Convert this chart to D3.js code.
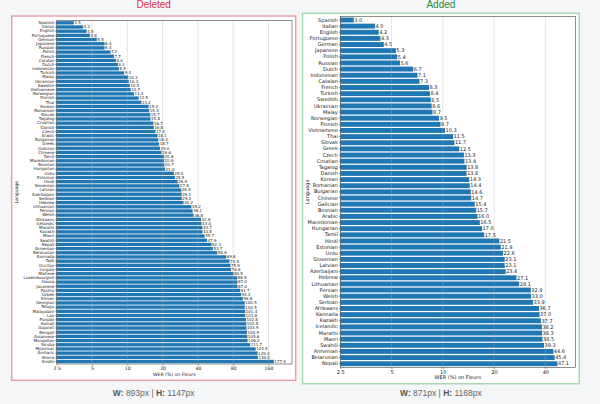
<!DOCTYPE html>
<html>
<head>
<meta charset="utf-8">
<script src="https://cdn.jsdelivr.net/npm/d3@7"></script>
<style>
  body { margin: 0; background: #f5f6f8; }
  svg { display: block; }
  text { font-family: "DejaVu Sans", sans-serif; fill: #222; }
</style>
</head>
<body>
<div id="main"></div>
<script>
// Deleted (left) - languages and WER, sorted ascending
const deletedLangs = ['Spanish','Italian','English','Portuguese','German','Japanese','Russian','Polish','French','Catalan',
  'Dutch','Indonesian','Turkish','Malay','Ukrainian','Swedish','Vietnamese','Norwegian','Finnish','Thai',
  'Korean','Romanian','Slovak','Tagalog','Croatian','Danish','Czech','Arabic','Bulgarian','Greek',
  'Galician','Chinese','Tamil','Macedonian','Bosnian','Hungarian','Urdu','Estonian','Hindi','Slovenian',
  'Latvian','Azerbaijani','Serbian','Hebrew','Lithuanian','Persian','Welsh','Afrikaans','Icelandic','Marathi',
  'Kazakh','Maori','Swahili','Nepali','Armenian','Belarusian','Kannada','Tajik','Occitan','Lingala',
  'Maltese','Luxembourgish','Hausa','Javanese','Pashto','Uzbek','Khmer','Georgian','Telugu','Malayalam',
  'Lao','Punjabi','Somali','Gujarati','Bengali','Assamese','Mongolian','Yoruba','Myanmar','Amharic',
  'Shona','Sindhi'];
const deletedWer = [3.5,4.2,4.5,4.8,5.5,6.4,6.4,7.2,7.7,8.0,
  8.3,8.5,9.4,10.2,10.3,10.5,10.7,11.4,12.5,13.2,
  15.2,15.4,15.7,15.8,16.7,16.8,17.4,18.1,18.4,18.7,
  19.0,19.6,20.6,20.6,20.7,21.0,25.0,25.5,26.9,27.8,
  28.9,29.1,29.2,30.2,35.2,36.1,36.8,42.6,43.0,43.7,
  43.8,45.7,47.9,52.3,53.7,58.6,69.8,74.5,75.9,76.8,
  80.5,86.5,87.0,87.0,91.7,93.3,96.8,100.5,100.5,101.4,
  101.6,102.8,103.5,103.9,104.9,105.6,106.2,111.7,124.5,129.3,
  130.0,177.9];

// Added (right)
const addedLangs = ['Spanish','Italian','English','Portuguese','German','Japanese','Polish','Russian','Dutch','Indonesian',
  'Catalan','French','Turkish','Swedish','Ukrainian','Malay','Norwegian','Finnish','Vietnamese','Thai',
  'Slovak','Greek','Czech','Croatian','Tagalog','Danish','Korean','Romanian','Bulgarian','Chinese',
  'Galician','Bosnian','Arabic','Macedonian','Hungarian','Tamil','Hindi','Estonian','Urdu','Slovenian',
  'Latvian','Azerbaijani','Hebrew','Lithuanian','Persian','Welsh','Serbian','Afrikaans','Kannada','Kazakh',
  'Icelandic','Marathi','Maori','Swahili','Armenian','Belarusian','Nepali'];
const addedWer = [3.0,4.0,4.2,4.3,4.5,5.3,5.4,5.6,6.7,7.1,
  7.3,8.3,8.4,8.5,8.6,8.7,9.5,9.7,10.3,11.5,
  11.7,12.5,13.3,13.4,13.8,13.8,14.3,14.4,14.6,14.7,
  15.4,15.7,16.0,16.5,17.0,17.5,21.5,21.9,22.6,23.1,
  23.1,23.4,27.1,28.1,32.9,33.0,33.9,36.7,37.0,37.7,
  38.2,38.3,38.5,39.3,44.6,45.4,47.1];

const deletedTicks = [2.5, 5, 10, 20, 40, 80, 160];
const addedTicks = [2.5, 5, 10, 20, 40];

const svg = d3.select('#main').append('svg')
  .attr('width', 600)
  .attr('height', 404);

svg.append('rect').attr('width', 600).attr('height', 404).attr('fill', '#f5f6f8');

function drawPanel(cfg) {
  // panel frame
  svg.append('rect')
    .attr('x', cfg.frame[0]).attr('y', cfg.frame[1])
    .attr('width', cfg.frame[2] - cfg.frame[0])
    .attr('height', cfg.frame[3] - cfg.frame[1])
    .attr('fill', '#fff')
    .attr('stroke', cfg.border)
    .attr('stroke-width', 1.5);

  svg.append('text')
    .attr('x', (cfg.frame[0] + cfg.frame[2]) / 2)
    .attr('y', 8)
    .attr('text-anchor', 'middle')
    .style('font-family', '"Liberation Sans", Arial, sans-serif')
    .style('font-size', '10px')
    .style('fill', cfg.titleColor)
    .text(cfg.title);

  const foot = svg.append('text')
    .attr('x', (cfg.frame[0] + cfg.frame[2]) / 2)
    .attr('y', 396)
    .attr('text-anchor', 'middle')
    .style('font-family', '"Liberation Sans", Arial, sans-serif')
    .style('font-size', '8.5px')
    .style('fill', '#666');
  foot.append('tspan').style('font-weight', 'bold').style('fill', '#555').text('W: ');
  foot.append('tspan').text(cfg.w + 'px | ');
  foot.append('tspan').style('font-weight', 'bold').style('fill', '#555').text('H: ');
  foot.append('tspan').text(cfg.h + 'px');

  const x = d3.scaleLog().base(2).domain(cfg.xDomain).range([cfg.left, cfg.right]);
  const y = d3.scaleBand().domain(cfg.langs).range([cfg.top, cfg.bottom]).padding(0.2);
  const g = svg.append('g');

  g.selectAll('rect.bar')
    .data(cfg.langs.map((l, i) => ({ lang: l, wer: cfg.wer[i] })))
    .join('rect')
      .attr('class', 'bar')
      .attr('x', cfg.left)
      .attr('y', d => y(d.lang))
      .attr('width', d => x(d.wer) - cfg.left)
      .attr('height', y.bandwidth())
      .attr('fill', '#1f77b4');

  // grid over bars
  g.selectAll('line.grid')
    .data(cfg.ticks)
    .join('line')
      .attr('class', 'grid')
      .attr('x1', d => x(d)).attr('x2', d => x(d))
      .attr('y1', cfg.top).attr('y2', cfg.bottom)
      .attr('stroke', '#b0b0b0')
      .attr('stroke-opacity', 0.55)
      .attr('stroke-width', 0.6);

  g.selectAll('text.val')
    .data(cfg.langs.map((l, i) => ({ lang: l, wer: cfg.wer[i] })))
    .join('text')
      .attr('class', 'val')
      .attr('x', d => x(d.wer) + 0.5)
      .attr('y', d => y(d.lang) + y.bandwidth() / 2)
      .attr('dy', '0.35em')
      .style('font-size', cfg.fs + 'px')
      .text(d => d3.format('.1f')(d.wer));

  const yAxis = d3.axisLeft(y).tickSize(1.5).tickPadding(1);
  const ya = g.append('g').attr('transform', `translate(${cfg.left},0)`).call(yAxis);
  ya.select('.domain').remove();
  ya.selectAll('line').attr('stroke', '#333').attr('stroke-width', 0.5);
  ya.selectAll('text').style('font-size', cfg.fs + 'px').style('fill', '#222');

  const xAxis = d3.axisBottom(x).tickValues(cfg.ticks).tickFormat(d => d).tickSize(1.5).tickPadding(1.5);
  const xa = g.append('g').attr('transform', `translate(0,${cfg.bottom})`).call(xAxis);
  xa.select('.domain').remove();
  xa.selectAll('line').attr('stroke', '#333').attr('stroke-width', 0.5);
  xa.selectAll('text').style('font-size', cfg.tfs + 'px').style('fill', '#222');

  // spines
  g.append('rect')
    .attr('x', cfg.left).attr('y', cfg.top)
    .attr('width', cfg.right - cfg.left).attr('height', cfg.bottom - cfg.top)
    .attr('fill', 'none')
    .attr('stroke', '#444')
    .attr('stroke-width', 0.6);

  g.append('text')
    .attr('x', (cfg.left + cfg.right) / 2)
    .attr('y', cfg.xLabelY)
    .attr('text-anchor', 'middle')
    .style('font-size', cfg.tfs + 'px')
    .text('WER (%) on Fleurs');

  g.append('text')
    .attr('transform', `translate(${cfg.yLabelX},${(cfg.top + cfg.bottom) / 2}) rotate(-90)`)
    .attr('text-anchor', 'middle')
    .style('font-size', cfg.tfs + 'px')
    .text('Language');
}

drawPanel({
  frame: [11.7, 16, 295.7, 380.3],
  border: '#e6a2ab',
  title: 'Deleted', titleColor: '#d63343',
  w: 893, h: 1147,
  langs: deletedLangs, wer: deletedWer, ticks: deletedTicks,
  xDomain: [2.5, 254],
  left: 56.7, right: 292, top: 20.3, bottom: 364,
  fs: 4, tfs: 4.6, xLabelY: 376, yLabelX: 18
});

drawPanel({
  frame: [302.5, 13.3, 579.3, 383.7],
  border: '#a6d8b2',
  title: 'Added', titleColor: '#2a8a3e',
  w: 871, h: 1168,
  langs: addedLangs, wer: addedWer, ticks: addedTicks,
  xDomain: [2.5, 60],
  left: 340.3, right: 575.3, top: 16.3, bottom: 367.4,
  fs: 5, tfs: 5, xLabelY: 379, yLabelX: 309
});
</script>
</body>
</html>
